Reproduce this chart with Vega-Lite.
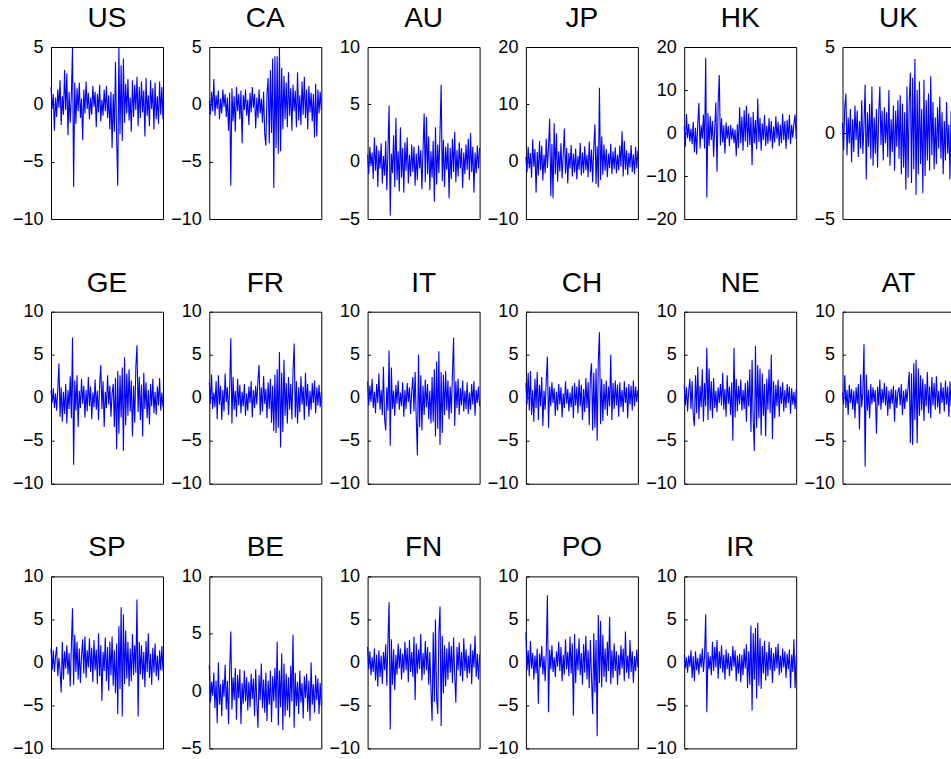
{
"$schema":"https://vega.github.io/schema/vega-lite/v6.json",
"background":"white",
"padding":{"left":11,"top":4,"right":0,"bottom":0},
"bounds":"flush",
"columns":6,
"spacing":{"row":92.7,"column":46.3},
"config":{
 "view":{"stroke":"#000000","strokeWidth":1},
 "axis":{"grid":false,"domain":false,"tickColor":"#000000","tickSize":-3,"labelPadding":11,"labelFontSize":18,"labelFont":"Liberation Sans","labelColor":"#000000"},
 "title":{"fontSize":28,"font":"Liberation Sans","fontWeight":"normal","color":"#000000","baseline":"alphabetic","offset":5},
 "line":{"color":"#0000ff","strokeWidth":1.1,"clip":true}
},
"datasets":{
"US":[{"t":0,"v":1.5},{"t":1,"v":-0.4},{"t":2,"v":0.9},{"t":3,"v":-2.3},{"t":4,"v":0.6},{"t":5,"v":-1.1},{"t":6,"v":1.3},{"t":7,"v":-0.3},{"t":8,"v":2.1},{"t":9,"v":-1.8},{"t":10,"v":0.7},{"t":11,"v":-0.9},{"t":12,"v":3.0},{"t":13,"v":-0.5},{"t":14,"v":2.7},{"t":15,"v":-2.7},{"t":16,"v":1.1},{"t":17,"v":-1.6},{"t":18,"v":0.8},{"t":19,"v":5.0},{"t":20,"v":-7.2},{"t":21,"v":1.9},{"t":22,"v":-1.7},{"t":23,"v":1.4},{"t":24,"v":-0.6},{"t":25,"v":1.9},{"t":26,"v":-1.2},{"t":27,"v":0.5},{"t":28,"v":-3.1},{"t":29,"v":1.3},{"t":30,"v":-0.8},{"t":31,"v":2.0},{"t":32,"v":-0.4},{"t":33,"v":1.0},{"t":34,"v":-1.3},{"t":35,"v":0.6},{"t":36,"v":-0.9},{"t":37,"v":1.6},{"t":38,"v":-0.2},{"t":39,"v":1.1},{"t":40,"v":-2.0},{"t":41,"v":0.9},{"t":42,"v":-0.7},{"t":43,"v":1.7},{"t":44,"v":-1.5},{"t":45,"v":0.4},{"t":46,"v":-1.0},{"t":47,"v":1.3},{"t":48,"v":-0.6},{"t":49,"v":1.6},{"t":50,"v":-1.2},{"t":51,"v":0.8},{"t":52,"v":-2.2},{"t":53,"v":1.1},{"t":54,"v":-3.8},{"t":55,"v":0.9},{"t":56,"v":-2.4},{"t":57,"v":3.7},{"t":58,"v":-2.9},{"t":59,"v":-7.1},{"t":60,"v":5.0},{"t":61,"v":-2.6},{"t":62,"v":3.4},{"t":63,"v":-3.2},{"t":64,"v":4.0},{"t":65,"v":-1.6},{"t":66,"v":1.8},{"t":67,"v":-0.8},{"t":68,"v":2.2},{"t":69,"v":-1.4},{"t":70,"v":0.6},{"t":71,"v":-2.4},{"t":72,"v":2.1},{"t":73,"v":-1.1},{"t":74,"v":1.7},{"t":75,"v":-0.5},{"t":76,"v":2.4},{"t":77,"v":-1.9},{"t":78,"v":1.5},{"t":79,"v":-1.2},{"t":80,"v":2.0},{"t":81,"v":-0.7},{"t":82,"v":1.2},{"t":83,"v":-2.8},{"t":84,"v":2.3},{"t":85,"v":-1.0},{"t":86,"v":0.8},{"t":87,"v":-1.9},{"t":88,"v":2.1},{"t":89,"v":-0.4},{"t":90,"v":1.4},{"t":91,"v":-2.2},{"t":92,"v":1.9},{"t":93,"v":-1.3},{"t":94,"v":0.7},{"t":95,"v":-1.7},{"t":96,"v":2.0},{"t":97,"v":-0.9},{"t":98,"v":1.5},{"t":99,"v":-1.3}],
"CA":[{"t":0,"v":0.3},{"t":1,"v":-0.9},{"t":2,"v":1.1},{"t":3,"v":-0.6},{"t":4,"v":2.2},{"t":5,"v":-1.0},{"t":6,"v":0.8},{"t":7,"v":-0.4},{"t":8,"v":1.2},{"t":9,"v":-1.3},{"t":10,"v":0.5},{"t":11,"v":-0.8},{"t":12,"v":1.3},{"t":13,"v":-0.2},{"t":14,"v":0.9},{"t":15,"v":-1.1},{"t":16,"v":0.6},{"t":17,"v":-2.3},{"t":18,"v":1.0},{"t":19,"v":-7.1},{"t":20,"v":1.4},{"t":21,"v":-1.5},{"t":22,"v":0.7},{"t":23,"v":-2.4},{"t":24,"v":1.5},{"t":25,"v":-0.6},{"t":26,"v":0.9},{"t":27,"v":-1.3},{"t":28,"v":1.2},{"t":29,"v":-3.4},{"t":30,"v":0.8},{"t":31,"v":-0.5},{"t":32,"v":1.3},{"t":33,"v":-1.0},{"t":34,"v":0.4},{"t":35,"v":-1.8},{"t":36,"v":1.0},{"t":37,"v":-0.7},{"t":38,"v":1.5},{"t":39,"v":-0.3},{"t":40,"v":0.9},{"t":41,"v":-2.1},{"t":42,"v":0.6},{"t":43,"v":-1.2},{"t":44,"v":1.3},{"t":45,"v":-0.8},{"t":46,"v":0.5},{"t":47,"v":-1.6},{"t":48,"v":1.1},{"t":49,"v":-2.6},{"t":50,"v":-3.6},{"t":51,"v":0.9},{"t":52,"v":2.3},{"t":53,"v":-3.4},{"t":54,"v":3.0},{"t":55,"v":-2.5},{"t":56,"v":4.0},{"t":57,"v":-7.3},{"t":58,"v":4.2},{"t":59,"v":-3.8},{"t":60,"v":4.2},{"t":61,"v":-4.3},{"t":62,"v":5.0},{"t":63,"v":-4.1},{"t":64,"v":3.2},{"t":65,"v":-2.2},{"t":66,"v":2.5},{"t":67,"v":-1.3},{"t":68,"v":1.9},{"t":69,"v":-2.0},{"t":70,"v":2.8},{"t":71,"v":-1.0},{"t":72,"v":1.4},{"t":73,"v":-2.3},{"t":74,"v":1.7},{"t":75,"v":-0.6},{"t":76,"v":1.2},{"t":77,"v":-2.0},{"t":78,"v":2.8},{"t":79,"v":-1.4},{"t":80,"v":0.8},{"t":81,"v":-1.8},{"t":82,"v":2.0},{"t":83,"v":-0.9},{"t":84,"v":2.4},{"t":85,"v":-1.2},{"t":86,"v":1.3},{"t":87,"v":-2.2},{"t":88,"v":1.6},{"t":89,"v":-0.7},{"t":90,"v":1.0},{"t":91,"v":-1.5},{"t":92,"v":0.9},{"t":93,"v":-2.9},{"t":94,"v":1.8},{"t":95,"v":-2.8},{"t":96,"v":1.3},{"t":97,"v":-0.8},{"t":98,"v":1.1},{"t":99,"v":-0.5}],
"AU":[{"t":0,"v":0.6},{"t":1,"v":-1.1},{"t":2,"v":1.3},{"t":3,"v":-0.4},{"t":4,"v":0.8},{"t":5,"v":-1.5},{"t":6,"v":2.1},{"t":7,"v":-0.8},{"t":8,"v":1.4},{"t":9,"v":-2.2},{"t":10,"v":1.0},{"t":11,"v":-0.6},{"t":12,"v":1.6},{"t":13,"v":-1.9},{"t":14,"v":0.5},{"t":15,"v":-1.2},{"t":16,"v":1.8},{"t":17,"v":-2.5},{"t":18,"v":1.1},{"t":19,"v":4.9},{"t":20,"v":-4.7},{"t":21,"v":0.7},{"t":22,"v":-1.0},{"t":23,"v":2.3},{"t":24,"v":-2.2},{"t":25,"v":3.8},{"t":26,"v":-1.6},{"t":27,"v":0.9},{"t":28,"v":-2.6},{"t":29,"v":3.0},{"t":30,"v":-1.4},{"t":31,"v":1.2},{"t":32,"v":-2.7},{"t":33,"v":1.7},{"t":34,"v":-0.8},{"t":35,"v":2.1},{"t":36,"v":-1.9},{"t":37,"v":0.6},{"t":38,"v":-1.3},{"t":39,"v":1.5},{"t":40,"v":-0.9},{"t":41,"v":1.3},{"t":42,"v":-2.1},{"t":43,"v":0.7},{"t":44,"v":-1.6},{"t":45,"v":1.4},{"t":46,"v":-0.6},{"t":47,"v":1.0},{"t":48,"v":-2.4},{"t":49,"v":1.1},{"t":50,"v":4.2},{"t":51,"v":-1.8},{"t":52,"v":3.9},{"t":53,"v":-1.1},{"t":54,"v":2.2},{"t":55,"v":-2.5},{"t":56,"v":0.9},{"t":57,"v":-1.4},{"t":58,"v":1.8},{"t":59,"v":-3.5},{"t":60,"v":3.0},{"t":61,"v":-2.0},{"t":62,"v":1.5},{"t":63,"v":-1.0},{"t":64,"v":2.5},{"t":65,"v":6.7},{"t":66,"v":-1.7},{"t":67,"v":1.9},{"t":68,"v":-2.2},{"t":69,"v":1.3},{"t":70,"v":-0.7},{"t":71,"v":1.6},{"t":72,"v":-3.2},{"t":73,"v":1.2},{"t":74,"v":-1.5},{"t":75,"v":2.0},{"t":76,"v":-0.9},{"t":77,"v":2.6},{"t":78,"v":-1.8},{"t":79,"v":1.0},{"t":80,"v":-1.3},{"t":81,"v":1.7},{"t":82,"v":-0.6},{"t":83,"v":1.2},{"t":84,"v":-2.3},{"t":85,"v":0.8},{"t":86,"v":-1.1},{"t":87,"v":1.5},{"t":88,"v":-0.7},{"t":89,"v":2.0},{"t":90,"v":-1.6},{"t":91,"v":2.5},{"t":92,"v":-0.9},{"t":93,"v":1.3},{"t":94,"v":-2.7},{"t":95,"v":0.8},{"t":96,"v":-1.0},{"t":97,"v":1.4},{"t":98,"v":-0.6},{"t":99,"v":1.2}],
"JP":[{"t":0,"v":0.8},{"t":1,"v":-1.9},{"t":2,"v":2.6},{"t":3,"v":-1.2},{"t":4,"v":1.5},{"t":5,"v":-2.8},{"t":6,"v":3.9},{"t":7,"v":-0.9},{"t":8,"v":2.2},{"t":9,"v":-5.4},{"t":10,"v":1.7},{"t":11,"v":-2.4},{"t":12,"v":3.6},{"t":13,"v":-1.5},{"t":14,"v":2.8},{"t":15,"v":-3.3},{"t":16,"v":1.2},{"t":17,"v":-2.0},{"t":18,"v":4.0},{"t":19,"v":-1.1},{"t":20,"v":2.5},{"t":21,"v":7.5},{"t":22,"v":-6.0},{"t":23,"v":3.1},{"t":24,"v":-6.4},{"t":25,"v":6.7},{"t":26,"v":-2.2},{"t":27,"v":4.9},{"t":28,"v":-3.5},{"t":29,"v":1.8},{"t":30,"v":-1.7},{"t":31,"v":3.2},{"t":32,"v":-2.9},{"t":33,"v":1.1},{"t":34,"v":5.8},{"t":35,"v":-2.1},{"t":36,"v":2.4},{"t":37,"v":-3.8},{"t":38,"v":1.5},{"t":39,"v":-1.2},{"t":40,"v":2.9},{"t":41,"v":-2.6},{"t":42,"v":1.4},{"t":43,"v":-1.9},{"t":44,"v":2.3},{"t":45,"v":-3.1},{"t":46,"v":1.0},{"t":47,"v":-1.4},{"t":48,"v":3.3},{"t":49,"v":-2.4},{"t":50,"v":1.6},{"t":51,"v":-2.0},{"t":52,"v":2.7},{"t":53,"v":-1.5},{"t":54,"v":1.2},{"t":55,"v":-2.7},{"t":56,"v":3.5},{"t":57,"v":-1.8},{"t":58,"v":2.1},{"t":59,"v":-3.6},{"t":60,"v":2.4},{"t":61,"v":6.5},{"t":62,"v":-3.9},{"t":63,"v":2.7},{"t":64,"v":-4.5},{"t":65,"v":12.9},{"t":66,"v":-3.2},{"t":67,"v":4.4},{"t":68,"v":-2.3},{"t":69,"v":3.0},{"t":70,"v":-1.6},{"t":71,"v":2.2},{"t":72,"v":-2.7},{"t":73,"v":1.4},{"t":74,"v":-1.1},{"t":75,"v":3.1},{"t":76,"v":-2.2},{"t":77,"v":1.8},{"t":78,"v":-1.3},{"t":79,"v":2.5},{"t":80,"v":-2.0},{"t":81,"v":1.2},{"t":82,"v":-1.5},{"t":83,"v":2.8},{"t":84,"v":-0.9},{"t":85,"v":5.3},{"t":86,"v":-2.6},{"t":87,"v":3.6},{"t":88,"v":-1.4},{"t":89,"v":2.0},{"t":90,"v":-2.3},{"t":91,"v":1.5},{"t":92,"v":-1.0},{"t":93,"v":2.9},{"t":94,"v":-1.8},{"t":95,"v":1.3},{"t":96,"v":-2.2},{"t":97,"v":2.6},{"t":98,"v":-1.2},{"t":99,"v":1.9}],
"HK":[{"t":0,"v":1.5},{"t":1,"v":-3.2},{"t":2,"v":4.4},{"t":3,"v":-1.2},{"t":4,"v":2.1},{"t":5,"v":-2.0},{"t":6,"v":1.0},{"t":7,"v":-2.6},{"t":8,"v":2.6},{"t":9,"v":-4.5},{"t":10,"v":1.2},{"t":11,"v":-5.0},{"t":12,"v":2.3},{"t":13,"v":7.0},{"t":14,"v":-3.6},{"t":15,"v":1.8},{"t":16,"v":-1.4},{"t":17,"v":4.3},{"t":18,"v":-3.6},{"t":19,"v":17.5},{"t":20,"v":-15.0},{"t":21,"v":4.6},{"t":22,"v":-3.0},{"t":23,"v":3.9},{"t":24,"v":-1.6},{"t":25,"v":2.8},{"t":26,"v":-5.5},{"t":27,"v":1.2},{"t":28,"v":7.1},{"t":29,"v":-9.0},{"t":30,"v":6.8},{"t":31,"v":13.5},{"t":32,"v":-2.9},{"t":33,"v":3.4},{"t":34,"v":-2.2},{"t":35,"v":1.8},{"t":36,"v":-4.8},{"t":37,"v":2.5},{"t":38,"v":-1.3},{"t":39,"v":1.6},{"t":40,"v":-3.0},{"t":41,"v":1.9},{"t":42,"v":-1.5},{"t":43,"v":1.1},{"t":44,"v":-2.4},{"t":45,"v":0.8},{"t":46,"v":-5.4},{"t":47,"v":2.0},{"t":48,"v":-3.5},{"t":49,"v":6.0},{"t":50,"v":-2.4},{"t":51,"v":3.8},{"t":52,"v":-4.1},{"t":53,"v":5.3},{"t":54,"v":-2.0},{"t":55,"v":6.4},{"t":56,"v":-3.3},{"t":57,"v":4.6},{"t":58,"v":-2.8},{"t":59,"v":3.7},{"t":60,"v":-7.5},{"t":61,"v":4.9},{"t":62,"v":-2.4},{"t":63,"v":3.0},{"t":64,"v":-3.8},{"t":65,"v":8.0},{"t":66,"v":-2.1},{"t":67,"v":3.5},{"t":68,"v":-4.1},{"t":69,"v":2.2},{"t":70,"v":-1.6},{"t":71,"v":4.2},{"t":72,"v":-3.0},{"t":73,"v":1.7},{"t":74,"v":-2.5},{"t":75,"v":3.4},{"t":76,"v":-1.9},{"t":77,"v":2.8},{"t":78,"v":-3.6},{"t":79,"v":1.5},{"t":80,"v":-2.2},{"t":81,"v":3.9},{"t":82,"v":-1.3},{"t":83,"v":2.6},{"t":84,"v":-3.1},{"t":85,"v":1.9},{"t":86,"v":-2.4},{"t":87,"v":4.5},{"t":88,"v":-1.6},{"t":89,"v":2.8},{"t":90,"v":-3.7},{"t":91,"v":3.1},{"t":92,"v":-1.5},{"t":93,"v":4.2},{"t":94,"v":-2.6},{"t":95,"v":1.9},{"t":96,"v":-1.1},{"t":97,"v":2.2},{"t":98,"v":4.3},{"t":99,"v":-1.4}],
"UK":[{"t":0,"v":0.6},{"t":1,"v":-1.0},{"t":2,"v":1.5},{"t":3,"v":2.3},{"t":4,"v":-1.3},{"t":5,"v":0.9},{"t":6,"v":-0.6},{"t":7,"v":1.4},{"t":8,"v":-1.7},{"t":9,"v":0.8},{"t":10,"v":-1.1},{"t":11,"v":1.6},{"t":12,"v":-0.4},{"t":13,"v":1.3},{"t":14,"v":-1.4},{"t":15,"v":0.7},{"t":16,"v":-0.9},{"t":17,"v":1.9},{"t":18,"v":-1.2},{"t":19,"v":0.5},{"t":20,"v":2.8},{"t":21,"v":-2.7},{"t":22,"v":1.2},{"t":23,"v":-0.8},{"t":24,"v":1.7},{"t":25,"v":-1.5},{"t":26,"v":2.7},{"t":27,"v":-1.9},{"t":28,"v":0.9},{"t":29,"v":-1.2},{"t":30,"v":1.4},{"t":31,"v":-2.0},{"t":32,"v":1.1},{"t":33,"v":2.7},{"t":34,"v":-0.7},{"t":35,"v":1.3},{"t":36,"v":-1.6},{"t":37,"v":1.5},{"t":38,"v":-0.6},{"t":39,"v":1.2},{"t":40,"v":-1.4},{"t":41,"v":2.5},{"t":42,"v":-1.9},{"t":43,"v":0.8},{"t":44,"v":-1.1},{"t":45,"v":1.6},{"t":46,"v":-2.2},{"t":47,"v":1.3},{"t":48,"v":-0.8},{"t":49,"v":1.9},{"t":50,"v":-1.5},{"t":51,"v":2.2},{"t":52,"v":-2.4},{"t":53,"v":1.7},{"t":54,"v":-2.0},{"t":55,"v":1.2},{"t":56,"v":-3.3},{"t":57,"v":2.7},{"t":58,"v":-2.6},{"t":59,"v":1.8},{"t":60,"v":3.5},{"t":61,"v":-2.9},{"t":62,"v":3.2},{"t":63,"v":-2.1},{"t":64,"v":4.3},{"t":65,"v":-3.6},{"t":66,"v":2.5},{"t":67,"v":-2.4},{"t":68,"v":3.0},{"t":69,"v":-1.8},{"t":70,"v":1.4},{"t":71,"v":-3.5},{"t":72,"v":3.1},{"t":73,"v":-2.5},{"t":74,"v":1.9},{"t":75,"v":-1.6},{"t":76,"v":2.3},{"t":77,"v":-2.2},{"t":78,"v":3.3},{"t":79,"v":-1.3},{"t":80,"v":1.8},{"t":81,"v":-2.1},{"t":82,"v":0.9},{"t":83,"v":-1.8},{"t":84,"v":1.5},{"t":85,"v":-0.9},{"t":86,"v":2.1},{"t":87,"v":-1.5},{"t":88,"v":1.2},{"t":89,"v":-2.4},{"t":90,"v":0.7},{"t":91,"v":-1.6},{"t":92,"v":1.8},{"t":93,"v":-1.2},{"t":94,"v":0.5},{"t":95,"v":-2.7},{"t":96,"v":1.3},{"t":97,"v":-1.0},{"t":98,"v":1.1},{"t":99,"v":-0.6}],
"GE":[{"t":0,"v":0.8},{"t":1,"v":-0.6},{"t":2,"v":1.1},{"t":3,"v":-1.2},{"t":4,"v":0.5},{"t":5,"v":-1.5},{"t":6,"v":1.0},{"t":7,"v":4.0},{"t":8,"v":-2.2},{"t":9,"v":1.2},{"t":10,"v":-2.8},{"t":11,"v":0.7},{"t":12,"v":-1.9},{"t":13,"v":1.6},{"t":14,"v":-3.0},{"t":15,"v":0.9},{"t":16,"v":-1.3},{"t":17,"v":2.5},{"t":18,"v":-2.4},{"t":19,"v":7.0},{"t":20,"v":-7.8},{"t":21,"v":2.0},{"t":22,"v":-1.5},{"t":23,"v":2.6},{"t":24,"v":-3.4},{"t":25,"v":0.8},{"t":26,"v":-1.2},{"t":27,"v":2.2},{"t":28,"v":-0.7},{"t":29,"v":1.4},{"t":30,"v":-2.3},{"t":31,"v":0.9},{"t":32,"v":-1.6},{"t":33,"v":2.4},{"t":34,"v":-1.0},{"t":35,"v":1.3},{"t":36,"v":-2.5},{"t":37,"v":0.6},{"t":38,"v":-1.1},{"t":39,"v":2.1},{"t":40,"v":-1.4},{"t":41,"v":0.8},{"t":42,"v":-2.6},{"t":43,"v":1.5},{"t":44,"v":3.8},{"t":45,"v":-1.3},{"t":46,"v":1.9},{"t":47,"v":-3.4},{"t":48,"v":0.7},{"t":49,"v":-1.2},{"t":50,"v":2.6},{"t":51,"v":-0.8},{"t":52,"v":1.4},{"t":53,"v":-2.2},{"t":54,"v":0.5},{"t":55,"v":1.6},{"t":56,"v":-3.4},{"t":57,"v":2.3},{"t":58,"v":-6.0},{"t":59,"v":3.1},{"t":60,"v":-4.2},{"t":61,"v":2.6},{"t":62,"v":-2.3},{"t":63,"v":3.5},{"t":64,"v":-6.2},{"t":65,"v":4.7},{"t":66,"v":-3.2},{"t":67,"v":2.8},{"t":68,"v":-2.1},{"t":69,"v":3.3},{"t":70,"v":-1.6},{"t":71,"v":2.0},{"t":72,"v":-4.5},{"t":73,"v":1.4},{"t":74,"v":-2.9},{"t":75,"v":3.6},{"t":76,"v":6.1},{"t":77,"v":-1.7},{"t":78,"v":2.4},{"t":79,"v":-2.6},{"t":80,"v":1.5},{"t":81,"v":-4.5},{"t":82,"v":2.9},{"t":83,"v":-1.3},{"t":84,"v":1.8},{"t":85,"v":-2.4},{"t":86,"v":0.9},{"t":87,"v":-3.1},{"t":88,"v":1.6},{"t":89,"v":-1.0},{"t":90,"v":2.2},{"t":91,"v":-1.8},{"t":92,"v":0.7},{"t":93,"v":-2.0},{"t":94,"v":1.3},{"t":95,"v":-0.9},{"t":96,"v":2.3},{"t":97,"v":-1.5},{"t":98,"v":0.6},{"t":99,"v":-1.1}],
"FR":[{"t":0,"v":1.8},{"t":1,"v":-0.7},{"t":2,"v":2.7},{"t":3,"v":-1.3},{"t":4,"v":0.6},{"t":5,"v":-1.1},{"t":6,"v":1.9},{"t":7,"v":-2.5},{"t":8,"v":2.6},{"t":9,"v":-0.8},{"t":10,"v":1.4},{"t":11,"v":-2.6},{"t":12,"v":0.9},{"t":13,"v":-1.6},{"t":14,"v":2.8},{"t":15,"v":-0.5},{"t":16,"v":1.2},{"t":17,"v":-2.0},{"t":18,"v":1.0},{"t":19,"v":6.9},{"t":20,"v":-3.0},{"t":21,"v":2.4},{"t":22,"v":-1.4},{"t":23,"v":0.8},{"t":24,"v":-2.2},{"t":25,"v":2.2},{"t":26,"v":-0.9},{"t":27,"v":1.5},{"t":28,"v":-1.8},{"t":29,"v":0.7},{"t":30,"v":-1.0},{"t":31,"v":1.6},{"t":32,"v":-2.1},{"t":33,"v":0.5},{"t":34,"v":-1.5},{"t":35,"v":1.3},{"t":36,"v":-0.6},{"t":37,"v":1.9},{"t":38,"v":-2.3},{"t":39,"v":0.9},{"t":40,"v":-1.2},{"t":41,"v":1.4},{"t":42,"v":-0.8},{"t":43,"v":2.0},{"t":44,"v":3.8},{"t":45,"v":-2.0},{"t":46,"v":1.2},{"t":47,"v":-1.6},{"t":48,"v":2.5},{"t":49,"v":-0.7},{"t":50,"v":1.0},{"t":51,"v":-2.4},{"t":52,"v":1.8},{"t":53,"v":-1.3},{"t":54,"v":2.2},{"t":55,"v":-2.9},{"t":56,"v":1.4},{"t":57,"v":-3.9},{"t":58,"v":2.7},{"t":59,"v":-4.1},{"t":60,"v":3.3},{"t":61,"v":-3.5},{"t":62,"v":5.3},{"t":63,"v":-5.8},{"t":64,"v":2.9},{"t":65,"v":-4.0},{"t":66,"v":4.4},{"t":67,"v":-2.1},{"t":68,"v":1.7},{"t":69,"v":-3.0},{"t":70,"v":2.4},{"t":71,"v":-1.4},{"t":72,"v":1.6},{"t":73,"v":-2.5},{"t":74,"v":3.0},{"t":75,"v":6.3},{"t":76,"v":-2.3},{"t":77,"v":1.9},{"t":78,"v":-3.0},{"t":79,"v":1.2},{"t":80,"v":-1.7},{"t":81,"v":2.5},{"t":82,"v":-0.8},{"t":83,"v":1.3},{"t":84,"v":-2.6},{"t":85,"v":2.9},{"t":86,"v":-1.0},{"t":87,"v":1.6},{"t":88,"v":-2.2},{"t":89,"v":0.8},{"t":90,"v":-1.4},{"t":91,"v":1.7},{"t":92,"v":-0.6},{"t":93,"v":2.0},{"t":94,"v":-1.8},{"t":95,"v":1.2},{"t":96,"v":-0.9},{"t":97,"v":1.5},{"t":98,"v":-1.1},{"t":99,"v":0.7}],
"IT":[{"t":0,"v":1.9},{"t":1,"v":-0.9},{"t":2,"v":1.4},{"t":3,"v":-0.5},{"t":4,"v":2.2},{"t":5,"v":-1.2},{"t":6,"v":0.7},{"t":7,"v":-1.8},{"t":8,"v":1.6},{"t":9,"v":-0.6},{"t":10,"v":2.8},{"t":11,"v":-1.4},{"t":12,"v":0.9},{"t":13,"v":-2.0},{"t":14,"v":3.6},{"t":15,"v":-2.4},{"t":16,"v":-3.8},{"t":17,"v":1.2},{"t":18,"v":-1.5},{"t":19,"v":5.5},{"t":20,"v":-5.6},{"t":21,"v":3.5},{"t":22,"v":-1.3},{"t":23,"v":0.8},{"t":24,"v":-2.1},{"t":25,"v":1.5},{"t":26,"v":-0.7},{"t":27,"v":2.0},{"t":28,"v":-1.4},{"t":29,"v":0.6},{"t":30,"v":-1.0},{"t":31,"v":1.8},{"t":32,"v":-2.2},{"t":33,"v":0.9},{"t":34,"v":-1.3},{"t":35,"v":1.7},{"t":36,"v":-0.5},{"t":37,"v":1.2},{"t":38,"v":-1.9},{"t":39,"v":0.7},{"t":40,"v":2.4},{"t":41,"v":-1.6},{"t":42,"v":3.0},{"t":43,"v":-2.4},{"t":44,"v":-6.7},{"t":45,"v":5.0},{"t":46,"v":-3.4},{"t":47,"v":2.6},{"t":48,"v":-3.8},{"t":49,"v":1.4},{"t":50,"v":-2.0},{"t":51,"v":2.1},{"t":52,"v":-1.1},{"t":53,"v":1.6},{"t":54,"v":-2.5},{"t":55,"v":0.8},{"t":56,"v":-3.0},{"t":57,"v":2.4},{"t":58,"v":-2.8},{"t":59,"v":3.3},{"t":60,"v":-4.5},{"t":61,"v":4.2},{"t":62,"v":-3.6},{"t":63,"v":5.4},{"t":64,"v":-5.5},{"t":65,"v":3.0},{"t":66,"v":-4.1},{"t":67,"v":2.7},{"t":68,"v":-2.0},{"t":69,"v":3.1},{"t":70,"v":-1.5},{"t":71,"v":2.0},{"t":72,"v":-2.5},{"t":73,"v":1.3},{"t":74,"v":-1.8},{"t":75,"v":2.8},{"t":76,"v":7.0},{"t":77,"v":-3.3},{"t":78,"v":1.9},{"t":79,"v":-1.2},{"t":80,"v":2.2},{"t":81,"v":-2.0},{"t":82,"v":1.1},{"t":83,"v":-0.9},{"t":84,"v":2.0},{"t":85,"v":-1.6},{"t":86,"v":0.8},{"t":87,"v":-1.3},{"t":88,"v":1.8},{"t":89,"v":-1.9},{"t":90,"v":0.6},{"t":91,"v":-1.4},{"t":92,"v":1.6},{"t":93,"v":-0.8},{"t":94,"v":1.9},{"t":95,"v":-2.1},{"t":96,"v":0.9},{"t":97,"v":-0.6},{"t":98,"v":1.3},{"t":99,"v":-1.0}],
"CH":[{"t":0,"v":1.7},{"t":1,"v":-0.8},{"t":2,"v":2.9},{"t":3,"v":-1.5},{"t":4,"v":3.1},{"t":5,"v":-2.0},{"t":6,"v":0.9},{"t":7,"v":-2.8},{"t":8,"v":2.2},{"t":9,"v":-1.2},{"t":10,"v":3.0},{"t":11,"v":-2.6},{"t":12,"v":1.5},{"t":13,"v":-1.0},{"t":14,"v":2.4},{"t":15,"v":-3.3},{"t":16,"v":0.8},{"t":17,"v":-1.4},{"t":18,"v":2.0},{"t":19,"v":4.8},{"t":20,"v":-3.5},{"t":21,"v":1.3},{"t":22,"v":-1.0},{"t":23,"v":1.8},{"t":24,"v":-0.6},{"t":25,"v":1.1},{"t":26,"v":-2.1},{"t":27,"v":0.7},{"t":28,"v":-1.5},{"t":29,"v":1.6},{"t":30,"v":-0.8},{"t":31,"v":1.2},{"t":32,"v":-2.3},{"t":33,"v":0.5},{"t":34,"v":-1.2},{"t":35,"v":1.9},{"t":36,"v":-0.7},{"t":37,"v":1.0},{"t":38,"v":-1.6},{"t":39,"v":0.6},{"t":40,"v":-1.1},{"t":41,"v":1.4},{"t":42,"v":-2.4},{"t":43,"v":1.7},{"t":44,"v":-0.9},{"t":45,"v":1.3},{"t":46,"v":-1.8},{"t":47,"v":2.1},{"t":48,"v":-1.0},{"t":49,"v":1.5},{"t":50,"v":-2.6},{"t":51,"v":1.0},{"t":52,"v":-1.7},{"t":53,"v":2.3},{"t":54,"v":-1.2},{"t":55,"v":1.8},{"t":56,"v":-3.2},{"t":57,"v":2.6},{"t":58,"v":4.0},{"t":59,"v":-3.8},{"t":60,"v":2.9},{"t":61,"v":-3.5},{"t":62,"v":3.4},{"t":63,"v":-5.0},{"t":64,"v":4.3},{"t":65,"v":7.6},{"t":66,"v":-3.1},{"t":67,"v":2.2},{"t":68,"v":-2.7},{"t":69,"v":1.6},{"t":70,"v":-1.4},{"t":71,"v":2.0},{"t":72,"v":-2.1},{"t":73,"v":1.3},{"t":74,"v":-1.0},{"t":75,"v":5.0},{"t":76,"v":-2.6},{"t":77,"v":1.7},{"t":78,"v":-1.3},{"t":79,"v":2.0},{"t":80,"v":-0.9},{"t":81,"v":1.5},{"t":82,"v":-2.2},{"t":83,"v":1.8},{"t":84,"v":-1.1},{"t":85,"v":0.9},{"t":86,"v":-1.7},{"t":87,"v":1.9},{"t":88,"v":-0.6},{"t":89,"v":1.2},{"t":90,"v":-2.4},{"t":91,"v":1.6},{"t":92,"v":-0.8},{"t":93,"v":1.4},{"t":94,"v":-1.5},{"t":95,"v":2.0},{"t":96,"v":-1.0},{"t":97,"v":1.3},{"t":98,"v":-0.5},{"t":99,"v":0.9}],
"NE":[{"t":0,"v":1.5},{"t":1,"v":-0.9},{"t":2,"v":1.2},{"t":3,"v":-1.6},{"t":4,"v":0.8},{"t":5,"v":2.2},{"t":6,"v":-1.3},{"t":7,"v":1.9},{"t":8,"v":-2.1},{"t":9,"v":-3.3},{"t":10,"v":2.6},{"t":11,"v":-1.8},{"t":12,"v":3.6},{"t":13,"v":-2.5},{"t":14,"v":1.4},{"t":15,"v":-1.1},{"t":16,"v":3.3},{"t":17,"v":-2.8},{"t":18,"v":1.7},{"t":19,"v":-1.0},{"t":20,"v":5.8},{"t":21,"v":-2.6},{"t":22,"v":3.4},{"t":23,"v":-1.5},{"t":24,"v":1.9},{"t":25,"v":-2.4},{"t":26,"v":2.3},{"t":27,"v":-1.2},{"t":28,"v":0.8},{"t":29,"v":-1.7},{"t":30,"v":1.2},{"t":31,"v":-0.6},{"t":32,"v":1.6},{"t":33,"v":-0.9},{"t":34,"v":2.9},{"t":35,"v":-1.4},{"t":36,"v":1.0},{"t":37,"v":-2.2},{"t":38,"v":2.6},{"t":39,"v":-0.7},{"t":40,"v":1.3},{"t":41,"v":-2.0},{"t":42,"v":1.8},{"t":43,"v":-5.0},{"t":44,"v":5.8},{"t":45,"v":-2.3},{"t":46,"v":2.2},{"t":47,"v":-1.6},{"t":48,"v":1.4},{"t":49,"v":-0.8},{"t":50,"v":2.1},{"t":51,"v":-1.5},{"t":52,"v":0.9},{"t":53,"v":-1.3},{"t":54,"v":1.7},{"t":55,"v":-2.8},{"t":56,"v":2.0},{"t":57,"v":-1.0},{"t":58,"v":3.3},{"t":59,"v":-4.0},{"t":60,"v":4.4},{"t":61,"v":-2.6},{"t":62,"v":-6.2},{"t":63,"v":6.0},{"t":64,"v":-3.5},{"t":65,"v":3.8},{"t":66,"v":-2.4},{"t":67,"v":3.4},{"t":68,"v":-4.4},{"t":69,"v":2.8},{"t":70,"v":-2.1},{"t":71,"v":1.6},{"t":72,"v":-4.5},{"t":73,"v":2.2},{"t":74,"v":-1.4},{"t":75,"v":3.3},{"t":76,"v":-1.8},{"t":77,"v":5.0},{"t":78,"v":-4.8},{"t":79,"v":1.9},{"t":80,"v":-2.4},{"t":81,"v":1.5},{"t":82,"v":-1.0},{"t":83,"v":2.1},{"t":84,"v":-2.2},{"t":85,"v":1.3},{"t":86,"v":-0.7},{"t":87,"v":1.8},{"t":88,"v":-1.6},{"t":89,"v":0.9},{"t":90,"v":-1.2},{"t":91,"v":1.6},{"t":92,"v":-0.6},{"t":93,"v":1.3},{"t":94,"v":-1.9},{"t":95,"v":1.1},{"t":96,"v":-0.8},{"t":97,"v":0.7},{"t":98,"v":-1.3},{"t":99,"v":1.0}],
"AT":[{"t":0,"v":0.6},{"t":1,"v":-0.8},{"t":2,"v":2.6},{"t":3,"v":-1.2},{"t":4,"v":0.9},{"t":5,"v":-2.0},{"t":6,"v":1.5},{"t":7,"v":-0.6},{"t":8,"v":1.0},{"t":9,"v":-1.4},{"t":10,"v":0.8},{"t":11,"v":-2.4},{"t":12,"v":1.2},{"t":13,"v":-0.7},{"t":14,"v":1.6},{"t":15,"v":-3.7},{"t":16,"v":2.7},{"t":17,"v":-1.1},{"t":18,"v":0.7},{"t":19,"v":6.2},{"t":20,"v":-8.0},{"t":21,"v":2.7},{"t":22,"v":-1.5},{"t":23,"v":0.9},{"t":24,"v":-2.4},{"t":25,"v":1.6},{"t":26,"v":-0.8},{"t":27,"v":1.2},{"t":28,"v":-0.5},{"t":29,"v":0.9},{"t":30,"v":-4.2},{"t":31,"v":1.3},{"t":32,"v":-0.9},{"t":33,"v":2.1},{"t":34,"v":-1.4},{"t":35,"v":1.0},{"t":36,"v":-0.6},{"t":37,"v":1.7},{"t":38,"v":-0.9},{"t":39,"v":1.3},{"t":40,"v":-2.1},{"t":41,"v":0.8},{"t":42,"v":-1.3},{"t":43,"v":1.0},{"t":44,"v":-0.7},{"t":45,"v":1.4},{"t":46,"v":-2.8},{"t":47,"v":0.9},{"t":48,"v":-1.2},{"t":49,"v":0.7},{"t":50,"v":1.2},{"t":51,"v":-0.9},{"t":52,"v":1.6},{"t":53,"v":-2.0},{"t":54,"v":0.8},{"t":55,"v":-1.3},{"t":56,"v":1.0},{"t":57,"v":-0.5},{"t":58,"v":1.3},{"t":59,"v":3.0},{"t":60,"v":-5.3},{"t":61,"v":2.8},{"t":62,"v":-5.5},{"t":63,"v":4.0},{"t":64,"v":-2.6},{"t":65,"v":4.4},{"t":66,"v":-5.3},{"t":67,"v":3.4},{"t":68,"v":-2.1},{"t":69,"v":2.6},{"t":70,"v":-1.5},{"t":71,"v":2.2},{"t":72,"v":-2.7},{"t":73,"v":1.6},{"t":74,"v":-1.0},{"t":75,"v":3.0},{"t":76,"v":-1.8},{"t":77,"v":1.3},{"t":78,"v":-2.4},{"t":79,"v":2.4},{"t":80,"v":-0.9},{"t":81,"v":1.7},{"t":82,"v":-1.4},{"t":83,"v":2.5},{"t":84,"v":-1.1},{"t":85,"v":0.8},{"t":86,"v":-1.9},{"t":87,"v":1.8},{"t":88,"v":-0.6},{"t":89,"v":1.2},{"t":90,"v":-1.6},{"t":91,"v":2.0},{"t":92,"v":-0.8},{"t":93,"v":1.3},{"t":94,"v":-2.2},{"t":95,"v":1.9},{"t":96,"v":-1.0},{"t":97,"v":1.1},{"t":98,"v":-0.5},{"t":99,"v":0.8}],
"SP":[{"t":0,"v":1.6},{"t":1,"v":-0.9},{"t":2,"v":1.4},{"t":3,"v":-1.1},{"t":4,"v":0.7},{"t":5,"v":1.8},{"t":6,"v":-1.6},{"t":7,"v":0.5},{"t":8,"v":-1.0},{"t":9,"v":-3.5},{"t":10,"v":2.4},{"t":11,"v":-2.0},{"t":12,"v":1.3},{"t":13,"v":-0.7},{"t":14,"v":2.0},{"t":15,"v":-1.4},{"t":16,"v":1.1},{"t":17,"v":-2.8},{"t":18,"v":1.9},{"t":19,"v":6.3},{"t":20,"v":-2.6},{"t":21,"v":3.2},{"t":22,"v":-1.1},{"t":23,"v":2.4},{"t":24,"v":-2.0},{"t":25,"v":1.6},{"t":26,"v":-2.4},{"t":27,"v":0.8},{"t":28,"v":2.7},{"t":29,"v":-1.3},{"t":30,"v":3.0},{"t":31,"v":-1.8},{"t":32,"v":1.4},{"t":33,"v":-0.6},{"t":34,"v":2.8},{"t":35,"v":-1.1},{"t":36,"v":1.7},{"t":37,"v":-2.3},{"t":38,"v":2.6},{"t":39,"v":-0.9},{"t":40,"v":1.5},{"t":41,"v":-2.5},{"t":42,"v":3.4},{"t":43,"v":-1.6},{"t":44,"v":2.0},{"t":45,"v":-4.5},{"t":46,"v":1.2},{"t":47,"v":-1.0},{"t":48,"v":2.9},{"t":49,"v":-2.2},{"t":50,"v":1.8},{"t":51,"v":-3.3},{"t":52,"v":2.4},{"t":53,"v":-1.5},{"t":54,"v":3.0},{"t":55,"v":-2.7},{"t":56,"v":1.4},{"t":57,"v":-3.6},{"t":58,"v":2.2},{"t":59,"v":-6.0},{"t":60,"v":4.2},{"t":61,"v":-3.1},{"t":62,"v":6.4},{"t":63,"v":-6.3},{"t":64,"v":5.6},{"t":65,"v":-2.5},{"t":66,"v":3.7},{"t":67,"v":-1.9},{"t":68,"v":2.4},{"t":69,"v":-2.8},{"t":70,"v":1.6},{"t":71,"v":-2.2},{"t":72,"v":3.3},{"t":73,"v":-1.5},{"t":74,"v":2.0},{"t":75,"v":-1.2},{"t":76,"v":7.3},{"t":77,"v":-6.3},{"t":78,"v":2.4},{"t":79,"v":-1.4},{"t":80,"v":2.0},{"t":81,"v":-2.0},{"t":82,"v":1.2},{"t":83,"v":-2.9},{"t":84,"v":2.5},{"t":85,"v":-1.1},{"t":86,"v":3.4},{"t":87,"v":-1.8},{"t":88,"v":1.0},{"t":89,"v":-2.6},{"t":90,"v":1.7},{"t":91,"v":-1.2},{"t":92,"v":2.2},{"t":93,"v":-1.6},{"t":94,"v":0.8},{"t":95,"v":-2.1},{"t":96,"v":1.4},{"t":97,"v":-0.9},{"t":98,"v":1.9},{"t":99,"v":-1.0}],
"BE":[{"t":0,"v":2.3},{"t":1,"v":-1.0},{"t":2,"v":0.8},{"t":3,"v":-0.4},{"t":4,"v":1.6},{"t":5,"v":-1.5},{"t":6,"v":0.9},{"t":7,"v":-2.8},{"t":8,"v":2.5},{"t":9,"v":-1.2},{"t":10,"v":0.6},{"t":11,"v":-2.2},{"t":12,"v":1.0},{"t":13,"v":-0.5},{"t":14,"v":2.3},{"t":15,"v":-1.6},{"t":16,"v":0.9},{"t":17,"v":-2.9},{"t":18,"v":1.8},{"t":19,"v":5.2},{"t":20,"v":-1.6},{"t":21,"v":1.2},{"t":22,"v":-0.8},{"t":23,"v":2.0},{"t":24,"v":-2.5},{"t":25,"v":1.4},{"t":26,"v":-0.6},{"t":27,"v":1.9},{"t":28,"v":-2.9},{"t":29,"v":0.7},{"t":30,"v":-1.1},{"t":31,"v":1.8},{"t":32,"v":-0.9},{"t":33,"v":1.2},{"t":34,"v":-1.7},{"t":35,"v":0.8},{"t":36,"v":-1.4},{"t":37,"v":1.5},{"t":38,"v":-0.7},{"t":39,"v":1.1},{"t":40,"v":-2.2},{"t":41,"v":1.9},{"t":42,"v":-1.0},{"t":43,"v":-3.2},{"t":44,"v":1.4},{"t":45,"v":-0.8},{"t":46,"v":2.4},{"t":47,"v":-1.5},{"t":48,"v":1.0},{"t":49,"v":-1.9},{"t":50,"v":1.6},{"t":51,"v":-2.6},{"t":52,"v":0.9},{"t":53,"v":-1.2},{"t":54,"v":1.8},{"t":55,"v":-2.7},{"t":56,"v":1.3},{"t":57,"v":-0.9},{"t":58,"v":2.0},{"t":59,"v":-1.5},{"t":60,"v":4.3},{"t":61,"v":-3.0},{"t":62,"v":1.8},{"t":63,"v":-1.4},{"t":64,"v":3.3},{"t":65,"v":-3.4},{"t":66,"v":2.4},{"t":67,"v":-2.2},{"t":68,"v":1.5},{"t":69,"v":-1.7},{"t":70,"v":1.2},{"t":71,"v":-2.3},{"t":72,"v":2.2},{"t":73,"v":-0.9},{"t":74,"v":4.9},{"t":75,"v":-3.2},{"t":76,"v":1.6},{"t":77,"v":-1.3},{"t":78,"v":0.8},{"t":79,"v":-2.0},{"t":80,"v":1.8},{"t":81,"v":-1.0},{"t":82,"v":0.7},{"t":83,"v":-2.4},{"t":84,"v":1.3},{"t":85,"v":-0.6},{"t":86,"v":1.5},{"t":87,"v":-1.8},{"t":88,"v":0.9},{"t":89,"v":-2.6},{"t":90,"v":2.5},{"t":91,"v":-1.2},{"t":92,"v":0.6},{"t":93,"v":-1.9},{"t":94,"v":1.4},{"t":95,"v":-0.8},{"t":96,"v":1.1},{"t":97,"v":-2.0},{"t":98,"v":0.7},{"t":99,"v":-1.3}],
"FN":[{"t":0,"v":1.8},{"t":1,"v":-0.8},{"t":2,"v":1.3},{"t":3,"v":-1.5},{"t":4,"v":0.6},{"t":5,"v":-1.1},{"t":6,"v":1.6},{"t":7,"v":-2.1},{"t":8,"v":0.9},{"t":9,"v":-2.8},{"t":10,"v":1.4},{"t":11,"v":-1.7},{"t":12,"v":0.8},{"t":13,"v":-2.5},{"t":14,"v":1.2},{"t":15,"v":-0.9},{"t":16,"v":2.1},{"t":17,"v":-2.7},{"t":18,"v":2.5},{"t":19,"v":7.0},{"t":20,"v":-7.8},{"t":21,"v":2.7},{"t":22,"v":-2.6},{"t":23,"v":1.5},{"t":24,"v":-3.2},{"t":25,"v":0.9},{"t":26,"v":-1.4},{"t":27,"v":2.2},{"t":28,"v":-0.7},{"t":29,"v":1.6},{"t":30,"v":-2.0},{"t":31,"v":1.0},{"t":32,"v":-1.2},{"t":33,"v":2.4},{"t":34,"v":-0.9},{"t":35,"v":1.7},{"t":36,"v":-2.3},{"t":37,"v":2.6},{"t":38,"v":-1.1},{"t":39,"v":1.2},{"t":40,"v":-1.7},{"t":41,"v":3.0},{"t":42,"v":-4.4},{"t":43,"v":2.2},{"t":44,"v":-1.3},{"t":45,"v":1.5},{"t":46,"v":-0.8},{"t":47,"v":3.3},{"t":48,"v":-2.1},{"t":49,"v":1.1},{"t":50,"v":-1.4},{"t":51,"v":2.5},{"t":52,"v":-0.9},{"t":53,"v":1.8},{"t":54,"v":-2.6},{"t":55,"v":1.2},{"t":56,"v":-3.1},{"t":57,"v":-6.8},{"t":58,"v":3.5},{"t":59,"v":-4.6},{"t":60,"v":5.0},{"t":61,"v":-4.2},{"t":62,"v":-6.0},{"t":63,"v":3.4},{"t":64,"v":6.5},{"t":65,"v":-7.4},{"t":66,"v":3.1},{"t":67,"v":-3.6},{"t":68,"v":2.0},{"t":69,"v":-2.8},{"t":70,"v":1.6},{"t":71,"v":-2.0},{"t":72,"v":2.4},{"t":73,"v":-1.2},{"t":74,"v":1.9},{"t":75,"v":-2.4},{"t":76,"v":2.9},{"t":77,"v":-1.5},{"t":78,"v":-4.7},{"t":79,"v":1.8},{"t":80,"v":-0.9},{"t":81,"v":2.3},{"t":82,"v":-1.6},{"t":83,"v":1.2},{"t":84,"v":-2.2},{"t":85,"v":2.8},{"t":86,"v":-1.0},{"t":87,"v":1.5},{"t":88,"v":-1.8},{"t":89,"v":0.8},{"t":90,"v":-1.3},{"t":91,"v":2.1},{"t":92,"v":-2.5},{"t":93,"v":1.4},{"t":94,"v":-0.6},{"t":95,"v":3.1},{"t":96,"v":-1.7},{"t":97,"v":1.0},{"t":98,"v":-2.0},{"t":99,"v":0.9}],
"PO":[{"t":0,"v":3.5},{"t":1,"v":-0.9},{"t":2,"v":1.4},{"t":3,"v":-1.6},{"t":4,"v":2.5},{"t":5,"v":-0.7},{"t":6,"v":1.1},{"t":7,"v":-2.0},{"t":8,"v":0.8},{"t":9,"v":-1.3},{"t":10,"v":1.6},{"t":11,"v":-4.8},{"t":12,"v":1.0},{"t":13,"v":-0.6},{"t":14,"v":1.9},{"t":15,"v":-1.4},{"t":16,"v":0.7},{"t":17,"v":-2.2},{"t":18,"v":1.2},{"t":19,"v":7.8},{"t":20,"v":-5.8},{"t":21,"v":1.5},{"t":22,"v":-0.8},{"t":23,"v":2.0},{"t":24,"v":-1.1},{"t":25,"v":0.6},{"t":26,"v":-1.7},{"t":27,"v":1.3},{"t":28,"v":-0.5},{"t":29,"v":2.4},{"t":30,"v":-1.0},{"t":31,"v":1.8},{"t":32,"v":-2.2},{"t":33,"v":0.9},{"t":34,"v":-1.4},{"t":35,"v":2.7},{"t":36,"v":-0.8},{"t":37,"v":1.2},{"t":38,"v":-1.6},{"t":39,"v":3.0},{"t":40,"v":-1.3},{"t":41,"v":2.2},{"t":42,"v":-6.2},{"t":43,"v":3.3},{"t":44,"v":-2.4},{"t":45,"v":1.6},{"t":46,"v":-0.9},{"t":47,"v":2.8},{"t":48,"v":-1.5},{"t":49,"v":1.1},{"t":50,"v":-2.6},{"t":51,"v":2.1},{"t":52,"v":-1.2},{"t":53,"v":3.1},{"t":54,"v":-2.0},{"t":55,"v":1.4},{"t":56,"v":-3.0},{"t":57,"v":2.6},{"t":58,"v":-1.8},{"t":59,"v":-6.0},{"t":60,"v":3.4},{"t":61,"v":-3.5},{"t":62,"v":2.6},{"t":63,"v":-8.6},{"t":64,"v":5.5},{"t":65,"v":-2.4},{"t":66,"v":4.8},{"t":67,"v":-2.9},{"t":68,"v":3.2},{"t":69,"v":-1.7},{"t":70,"v":1.6},{"t":71,"v":-2.3},{"t":72,"v":2.4},{"t":73,"v":-1.0},{"t":74,"v":5.3},{"t":75,"v":-2.5},{"t":76,"v":1.4},{"t":77,"v":-1.8},{"t":78,"v":2.2},{"t":79,"v":-1.0},{"t":80,"v":1.3},{"t":81,"v":-2.6},{"t":82,"v":0.9},{"t":83,"v":-1.5},{"t":84,"v":2.0},{"t":85,"v":-0.7},{"t":86,"v":1.6},{"t":87,"v":-2.2},{"t":88,"v":3.6},{"t":89,"v":-1.2},{"t":90,"v":0.8},{"t":91,"v":-1.9},{"t":92,"v":2.6},{"t":93,"v":-1.1},{"t":94,"v":1.3},{"t":95,"v":-2.4},{"t":96,"v":0.7},{"t":97,"v":-1.0},{"t":98,"v":1.5},{"t":99,"v":-0.6}],
"IR":[{"t":0,"v":0.9},{"t":1,"v":-0.7},{"t":2,"v":0.6},{"t":3,"v":-1.2},{"t":4,"v":0.8},{"t":5,"v":-0.5},{"t":6,"v":1.4},{"t":7,"v":-1.8},{"t":8,"v":0.7},{"t":9,"v":-2.2},{"t":10,"v":1.3},{"t":11,"v":-0.9},{"t":12,"v":0.5},{"t":13,"v":-1.4},{"t":14,"v":1.0},{"t":15,"v":-0.6},{"t":16,"v":1.6},{"t":17,"v":-1.1},{"t":18,"v":0.8},{"t":19,"v":5.6},{"t":20,"v":-5.8},{"t":21,"v":1.2},{"t":22,"v":-0.8},{"t":23,"v":0.7},{"t":24,"v":-1.5},{"t":25,"v":2.4},{"t":26,"v":-1.0},{"t":27,"v":1.8},{"t":28,"v":-0.6},{"t":29,"v":2.6},{"t":30,"v":-1.9},{"t":31,"v":1.3},{"t":32,"v":-0.7},{"t":33,"v":2.0},{"t":34,"v":-1.2},{"t":35,"v":0.9},{"t":36,"v":-2.0},{"t":37,"v":1.5},{"t":38,"v":-0.8},{"t":39,"v":1.1},{"t":40,"v":-1.6},{"t":41,"v":0.7},{"t":42,"v":-1.0},{"t":43,"v":1.9},{"t":44,"v":-0.5},{"t":45,"v":1.4},{"t":46,"v":-2.2},{"t":47,"v":0.8},{"t":48,"v":-1.3},{"t":49,"v":1.0},{"t":50,"v":-2.3},{"t":51,"v":0.9},{"t":52,"v":-1.5},{"t":53,"v":1.6},{"t":54,"v":-0.7},{"t":55,"v":2.1},{"t":56,"v":-3.0},{"t":57,"v":1.3},{"t":58,"v":-2.6},{"t":59,"v":4.3},{"t":60,"v":-5.6},{"t":61,"v":3.4},{"t":62,"v":-2.0},{"t":63,"v":4.0},{"t":64,"v":-4.2},{"t":65,"v":4.6},{"t":66,"v":-2.7},{"t":67,"v":2.8},{"t":68,"v":-3.1},{"t":69,"v":1.9},{"t":70,"v":-1.3},{"t":71,"v":2.5},{"t":72,"v":-2.1},{"t":73,"v":1.2},{"t":74,"v":-1.6},{"t":75,"v":2.4},{"t":76,"v":-0.9},{"t":77,"v":1.7},{"t":78,"v":-2.4},{"t":79,"v":1.1},{"t":80,"v":-1.0},{"t":81,"v":1.8},{"t":82,"v":-0.7},{"t":83,"v":2.2},{"t":84,"v":-1.5},{"t":85,"v":0.8},{"t":86,"v":-1.2},{"t":87,"v":1.6},{"t":88,"v":-0.6},{"t":89,"v":1.3},{"t":90,"v":-1.8},{"t":91,"v":1.0},{"t":92,"v":-0.8},{"t":93,"v":1.5},{"t":94,"v":-3.0},{"t":95,"v":0.9},{"t":96,"v":-1.1},{"t":97,"v":2.7},{"t":98,"v":-3.0},{"t":99,"v":0.8}]
},
"concat":[
{"title":"US","width":112,"height":172,"data":{"name":"US"},"mark":"line","encoding":{"x":{"field":"t","type":"quantitative","scale":{"domain":[0,99],"nice":false,"zero":false},"axis":null},"y":{"field":"v","type":"quantitative","scale":{"domain":[-10,5],"nice":false,"zero":false},"axis":{"values":[-10,-5,0,5],"title":null}}}},
{"title":"CA","width":112,"height":172,"data":{"name":"CA"},"mark":"line","encoding":{"x":{"field":"t","type":"quantitative","scale":{"domain":[0,99],"nice":false,"zero":false},"axis":null},"y":{"field":"v","type":"quantitative","scale":{"domain":[-10,5],"nice":false,"zero":false},"axis":{"values":[-10,-5,0,5],"title":null}}}},
{"title":"AU","width":112,"height":172,"data":{"name":"AU"},"mark":"line","encoding":{"x":{"field":"t","type":"quantitative","scale":{"domain":[0,99],"nice":false,"zero":false},"axis":null},"y":{"field":"v","type":"quantitative","scale":{"domain":[-5,10],"nice":false,"zero":false},"axis":{"values":[-5,0,5,10],"title":null}}}},
{"title":"JP","width":112,"height":172,"data":{"name":"JP"},"mark":"line","encoding":{"x":{"field":"t","type":"quantitative","scale":{"domain":[0,99],"nice":false,"zero":false},"axis":null},"y":{"field":"v","type":"quantitative","scale":{"domain":[-10,20],"nice":false,"zero":false},"axis":{"values":[-10,0,10,20],"title":null}}}},
{"title":"HK","width":112,"height":172,"data":{"name":"HK"},"mark":"line","encoding":{"x":{"field":"t","type":"quantitative","scale":{"domain":[0,99],"nice":false,"zero":false},"axis":null},"y":{"field":"v","type":"quantitative","scale":{"domain":[-20,20],"nice":false,"zero":false},"axis":{"values":[-20,-10,0,10,20],"title":null}}}},
{"title":"UK","width":112,"height":172,"data":{"name":"UK"},"mark":"line","encoding":{"x":{"field":"t","type":"quantitative","scale":{"domain":[0,99],"nice":false,"zero":false},"axis":null},"y":{"field":"v","type":"quantitative","scale":{"domain":[-5,5],"nice":false,"zero":false},"axis":{"values":[-5,0,5],"title":null}}}},
{"title":"GE","width":112,"height":172,"data":{"name":"GE"},"mark":"line","encoding":{"x":{"field":"t","type":"quantitative","scale":{"domain":[0,99],"nice":false,"zero":false},"axis":null},"y":{"field":"v","type":"quantitative","scale":{"domain":[-10,10],"nice":false,"zero":false},"axis":{"values":[-10,-5,0,5,10],"title":null}}}},
{"title":"FR","width":112,"height":172,"data":{"name":"FR"},"mark":"line","encoding":{"x":{"field":"t","type":"quantitative","scale":{"domain":[0,99],"nice":false,"zero":false},"axis":null},"y":{"field":"v","type":"quantitative","scale":{"domain":[-10,10],"nice":false,"zero":false},"axis":{"values":[-10,-5,0,5,10],"title":null}}}},
{"title":"IT","width":112,"height":172,"data":{"name":"IT"},"mark":"line","encoding":{"x":{"field":"t","type":"quantitative","scale":{"domain":[0,99],"nice":false,"zero":false},"axis":null},"y":{"field":"v","type":"quantitative","scale":{"domain":[-10,10],"nice":false,"zero":false},"axis":{"values":[-10,-5,0,5,10],"title":null}}}},
{"title":"CH","width":112,"height":172,"data":{"name":"CH"},"mark":"line","encoding":{"x":{"field":"t","type":"quantitative","scale":{"domain":[0,99],"nice":false,"zero":false},"axis":null},"y":{"field":"v","type":"quantitative","scale":{"domain":[-10,10],"nice":false,"zero":false},"axis":{"values":[-10,-5,0,5,10],"title":null}}}},
{"title":"NE","width":112,"height":172,"data":{"name":"NE"},"mark":"line","encoding":{"x":{"field":"t","type":"quantitative","scale":{"domain":[0,99],"nice":false,"zero":false},"axis":null},"y":{"field":"v","type":"quantitative","scale":{"domain":[-10,10],"nice":false,"zero":false},"axis":{"values":[-10,-5,0,5,10],"title":null}}}},
{"title":"AT","width":112,"height":172,"data":{"name":"AT"},"mark":"line","encoding":{"x":{"field":"t","type":"quantitative","scale":{"domain":[0,99],"nice":false,"zero":false},"axis":null},"y":{"field":"v","type":"quantitative","scale":{"domain":[-10,10],"nice":false,"zero":false},"axis":{"values":[-10,-5,0,5,10],"title":null}}}},
{"title":"SP","width":112,"height":172,"data":{"name":"SP"},"mark":"line","encoding":{"x":{"field":"t","type":"quantitative","scale":{"domain":[0,99],"nice":false,"zero":false},"axis":null},"y":{"field":"v","type":"quantitative","scale":{"domain":[-10,10],"nice":false,"zero":false},"axis":{"values":[-10,-5,0,5,10],"title":null}}}},
{"title":"BE","width":112,"height":172,"data":{"name":"BE"},"mark":"line","encoding":{"x":{"field":"t","type":"quantitative","scale":{"domain":[0,99],"nice":false,"zero":false},"axis":null},"y":{"field":"v","type":"quantitative","scale":{"domain":[-5,10],"nice":false,"zero":false},"axis":{"values":[-5,0,5,10],"title":null}}}},
{"title":"FN","width":112,"height":172,"data":{"name":"FN"},"mark":"line","encoding":{"x":{"field":"t","type":"quantitative","scale":{"domain":[0,99],"nice":false,"zero":false},"axis":null},"y":{"field":"v","type":"quantitative","scale":{"domain":[-10,10],"nice":false,"zero":false},"axis":{"values":[-10,-5,0,5,10],"title":null}}}},
{"title":"PO","width":112,"height":172,"data":{"name":"PO"},"mark":"line","encoding":{"x":{"field":"t","type":"quantitative","scale":{"domain":[0,99],"nice":false,"zero":false},"axis":null},"y":{"field":"v","type":"quantitative","scale":{"domain":[-10,10],"nice":false,"zero":false},"axis":{"values":[-10,-5,0,5,10],"title":null}}}},
{"title":"IR","width":112,"height":172,"data":{"name":"IR"},"mark":"line","encoding":{"x":{"field":"t","type":"quantitative","scale":{"domain":[0,99],"nice":false,"zero":false},"axis":null},"y":{"field":"v","type":"quantitative","scale":{"domain":[-10,10],"nice":false,"zero":false},"axis":{"values":[-10,-5,0,5,10],"title":null}}}}
]
}
